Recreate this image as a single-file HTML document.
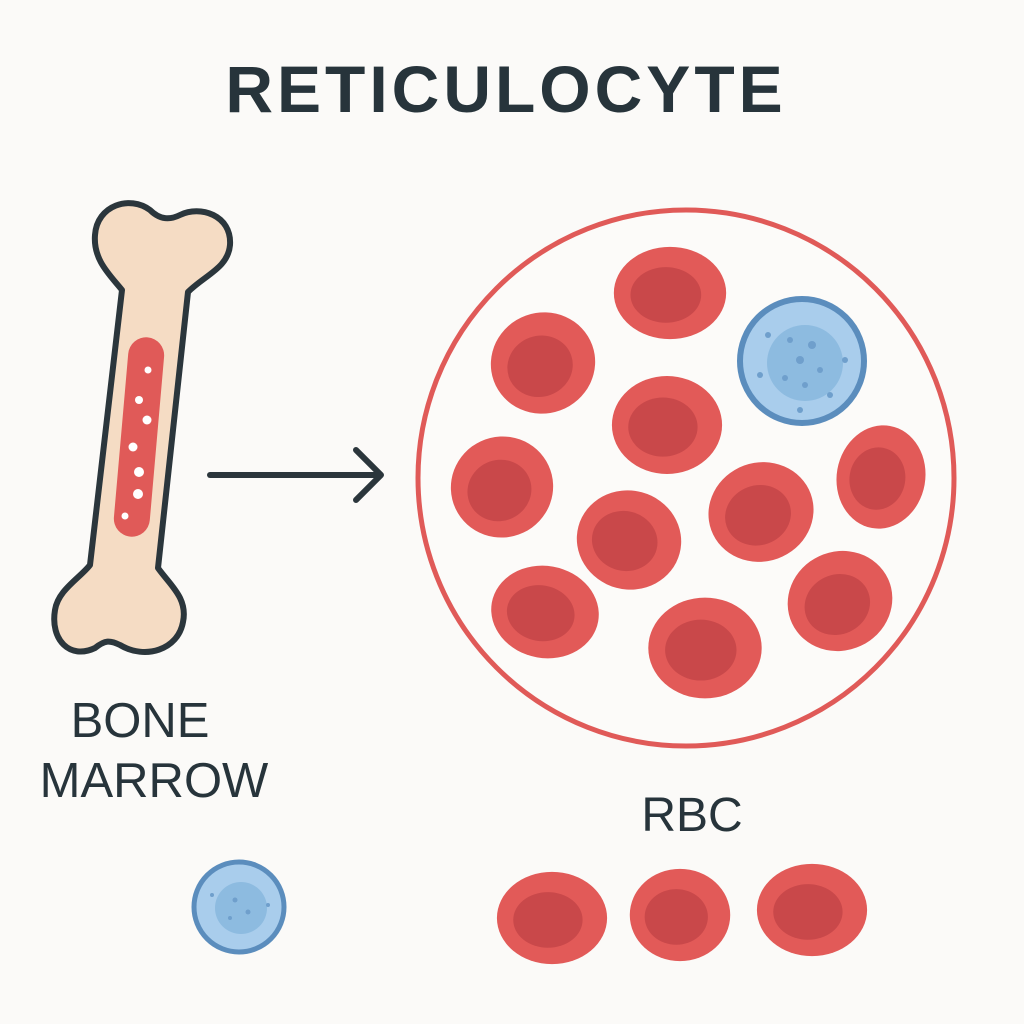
<!DOCTYPE html>
<html><head><meta charset="utf-8"><style>
html,body{margin:0;padding:0;background:#fbfaf8;}
svg{display:block}
text{font-family:"Liberation Sans",sans-serif;fill:#27343b;}
</style></head><body>
<svg width="1024" height="1024" viewBox="0 0 1024 1024">
<defs>
<g id="rbc"><ellipse rx="54" ry="48" fill="#e25a58"/><ellipse cx="-4" cy="2" rx="34" ry="29" fill="#c9484a"/></g>
</defs>
<rect width="1024" height="1024" fill="#fbfaf8"/>
<text x="506" y="112" font-size="66" font-weight="bold" text-anchor="middle" letter-spacing="4">RETICULOCYTE</text>

<path d="M122 290 C110 275,93 260,95 235 C97 205,130 195,150 210 C160 220,170 220,180 215 C200 205,232 215,230 245 C228 268,205 275,188 292 L158 568 C170 585,188 598,183 622 C178 650,145 660,120 645 C110 640,105 640,95 648 C70 660,50 640,55 610 C58 590,80 578,90 565 Z" fill="#f5dcc4" stroke="#2b363c" stroke-width="6" stroke-linejoin="round"/>
<rect x="121" y="337" width="36" height="200" rx="18" fill="#e05a58" transform="rotate(5 139 437)"/>
<g fill="#fff"><circle cx="148" cy="370" r="3.5"/><circle cx="139" cy="400" r="4"/><circle cx="147" cy="420" r="4.5"/><circle cx="133" cy="447" r="4.5"/><circle cx="139" cy="472" r="5"/><circle cx="138" cy="494" r="5"/><circle cx="125" cy="516" r="3.5"/></g>

<line x1="210" y1="475" x2="380" y2="475" stroke="#2b363c" stroke-width="6" stroke-linecap="round"/>
<polyline points="356,450 381,475 356,500" fill="none" stroke="#2b363c" stroke-width="6" stroke-linecap="round" stroke-linejoin="round"/>

<circle cx="686" cy="478" r="268" fill="#fcfbf9" stroke="#e05a58" stroke-width="5"/>
<use href="#rbc" transform="translate(670,293) scale(1.04,0.96)"/>
<use href="#rbc" transform="translate(543,363) rotate(-20) scale(0.97,1.05)"/>
<use href="#rbc" transform="translate(667,425) scale(1.02,1.02)"/>
<use href="#rbc" transform="translate(502,487) rotate(-25) scale(0.95,1.05)"/>
<use href="#rbc" transform="translate(629,540) rotate(15) scale(0.97,1.03)"/>
<use href="#rbc" transform="translate(761,512) rotate(-20) scale(0.98,1.03)"/>
<use href="#rbc" transform="translate(881,477) rotate(10) scale(0.82,1.08)"/>
<use href="#rbc" transform="translate(545,612) rotate(10) scale(1.0,0.96)"/>
<use href="#rbc" transform="translate(705,648) scale(1.05,1.05)"/>
<use href="#rbc" transform="translate(840,601) rotate(-25) scale(0.98,1.03)"/>

<circle cx="802" cy="361" r="62" fill="#a9cdec" stroke="#5b8dbd" stroke-width="6"/>
<circle cx="805" cy="363" r="38" fill="#8dbbe0"/>
<g fill="#6f9fcc"><circle cx="790" cy="340" r="3"/><circle cx="812" cy="345" r="4"/><circle cx="800" cy="360" r="4"/><circle cx="820" cy="370" r="3"/><circle cx="785" cy="378" r="3"/><circle cx="805" cy="385" r="3"/><circle cx="768" cy="335" r="3"/><circle cx="845" cy="360" r="3"/><circle cx="760" cy="375" r="3"/><circle cx="800" cy="410" r="3"/><circle cx="830" cy="395" r="3"/></g>

<text x="140" y="737" font-size="49" text-anchor="middle">BONE</text>
<text x="154" y="797" font-size="49" text-anchor="middle">MARROW</text>
<text x="692" y="831" font-size="48" text-anchor="middle">RBC</text>

<circle cx="239" cy="907" r="45" fill="#a9cdec" stroke="#5b8dbd" stroke-width="5"/>
<circle cx="241" cy="908" r="26" fill="#8dbbe0"/>
<g fill="#6f9fcc"><circle cx="235" cy="900" r="2.5"/><circle cx="248" cy="912" r="2.5"/><circle cx="230" cy="918" r="2"/><circle cx="212" cy="895" r="2"/><circle cx="268" cy="905" r="2"/></g>

<use href="#rbc" transform="translate(552,918) scale(1.02,0.96)"/>
<use href="#rbc" transform="translate(680,915) scale(0.93,0.96)"/>
<use href="#rbc" transform="translate(812,910) scale(1.02,0.96)"/>
</svg>
</body></html>
